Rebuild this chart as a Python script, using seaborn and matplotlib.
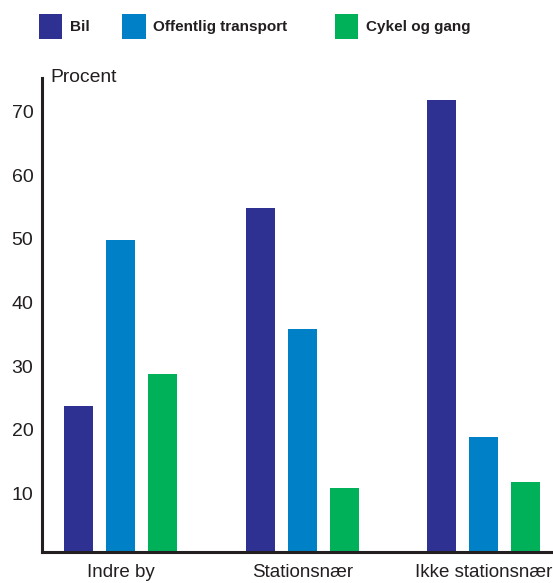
import matplotlib
matplotlib.use("Agg")
import matplotlib.pyplot as plt
from matplotlib.transforms import ScaledTranslation
import pandas as pd
import seaborn as sns

# Andel af ture fordelt på transportmiddel og boligens beliggenhed (procent)
omraader = ["Indre by", "Stationsnær", "Ikke stationsnær"]
transportmidler = ["Bil", "Offentlig transport", "Cykel og gang"]
bil = [23, 54, 71]
offentlig = [49, 35, 18]
cykel_gang = [28, 10, 11]
y_ticks = [10, 20, 30, 40, 50, 60, 70]
farver = ["#2e3192", "#0080c6", "#00b15a"]

df = pd.DataFrame({
    "omraade": omraader * 3,
    "transport": [t for t in transportmidler for _ in omraader],
    "procent": bil + offentlig + cykel_gang,
})

sns.set_style("white")
plt.rcParams["font.family"] = ["Liberation Sans", "DejaVu Sans"]
tekst = "#231f20"

W, H = 553, 583
fig = plt.figure(figsize=(W / 100, H / 100), dpi=100)
ax_left, ax_bottom, ax_top = 41.7, 551.8, 78.0
ax = fig.add_axes([ax_left / W, (H - ax_bottom) / H,
                   (W - ax_left) / W, (ax_bottom - ax_top) / H])

sns.barplot(data=df, x="omraade", y="procent", hue="transport",
            order=omraader, hue_order=transportmidler, palette=farver,
            width=0.694, gap=0.307, saturation=1, linewidth=0, ax=ax)

ax.set_xlim(-0.436, 2.381)
ax.set_ylim(0, 74.5)
ax.set_xlabel("")
ax.set_ylabel("")

for side in ("top", "right"):
    ax.spines[side].set_visible(False)
for side in ("left", "bottom"):
    ax.spines[side].set_linewidth(2.2)
    ax.spines[side].set_color(tekst)
    ax.spines[side].set_capstyle("projecting")

ax.set_yticks(y_ticks)
ax.set_yticklabels([str(v) for v in y_ticks])
ax.tick_params(axis="y", length=0, pad=6, labelsize=14, labelcolor=tekst)
ax.tick_params(axis="x", length=0, pad=9, labelsize=13.5, labelcolor=tekst)

# y-labels sit slightly below their gridline value
for tick in ax.yaxis.get_major_ticks():
    tick.label1.set_transform(tick.label1.get_transform()
                              + ScaledTranslation(0, -5 / 100, fig.dpi_scale_trans))

fig.text(50 / W, 1 - 82 / H, "Procent", fontsize=13.9, color=tekst,
         ha="left", va="baseline")

# Legend entries placed individually across the top
handles, labels = ax.get_legend_handles_labels()
ax.get_legend().remove()
legend_x = [38.7, 122.0, 334.7]
for h, lab, x in zip(handles, labels, legend_x):
    leg = fig.legend([h], [lab], loc="center left",
                     bbox_to_anchor=(x / W, 1 - 26.5 / H),
                     frameon=False, borderpad=0, borderaxespad=0,
                     handlelength=1.545, handleheight=2.14, handletextpad=0.5,
                     prop={"weight": "bold", "size": 11})
    for t in leg.get_texts():
        t.set_color(tekst)

fig.savefig("out.png", dpi=100)
